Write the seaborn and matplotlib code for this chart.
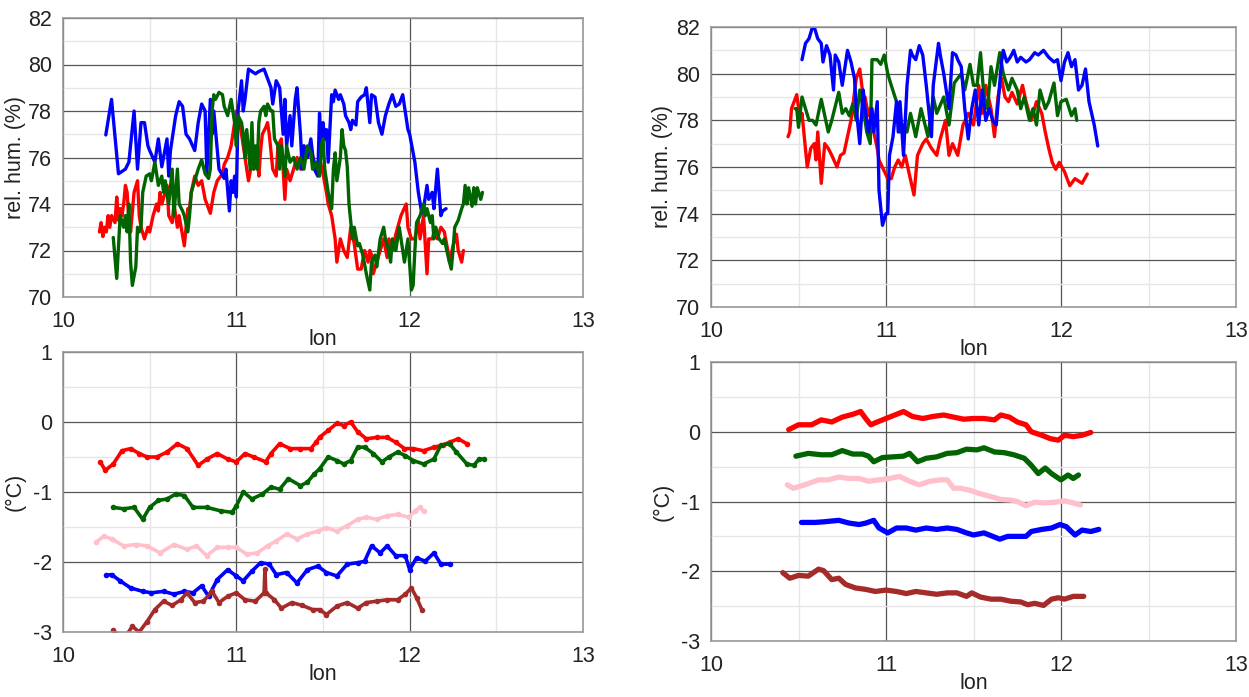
import numpy as np
import pandas as pd
import matplotlib
matplotlib.use("Agg")
import matplotlib.pyplot as plt
import seaborn as sns
from matplotlib.ticker import MultipleLocator

# ---- top-left: relative humidity (%) ----
tl_blue_lon = [10.247, 10.28, 10.32, 10.34, 10.36, 10.38, 10.41, 10.43, 10.45, 10.47, 10.49, 10.5, 10.53, 10.55, 10.57, 10.6, 10.61, 10.62, 10.65, 10.67, 10.69, 10.71, 10.73, 10.76, 10.78, 10.8, 10.82, 10.83, 10.85, 10.86, 10.87, 10.9, 10.93, 10.94, 10.96, 10.97, 10.98, 10.99, 11.0, 11.01, 11.03, 11.04, 11.05, 11.07, 11.09, 11.11, 11.13, 11.16, 11.18, 11.2, 11.21, 11.23, 11.25, 11.27, 11.28, 11.29, 11.31, 11.32, 11.34, 11.35, 11.37, 11.38, 11.39, 11.41, 11.43, 11.45, 11.47, 11.48, 11.49, 11.5, 11.51, 11.52, 11.53, 11.55, 11.56, 11.57, 11.59, 11.6, 11.62, 11.63, 11.65, 11.66, 11.67, 11.69, 11.7, 11.72, 11.74, 11.75, 11.77, 11.78, 11.8, 11.82, 11.84, 11.86, 11.88, 11.9, 11.92, 11.94, 11.96, 11.99, 12.0, 12.03, 12.05, 12.07, 12.08, 12.1, 12.11, 12.13, 12.14, 12.16, 12.18, 12.19, 12.21]
tl_blue = [76.97, 78.5, 75.3, 75.4, 75.5, 75.8, 78.0, 75.5, 77.5, 77.5, 76.5, 76.3, 75.8, 76.8, 75.6, 76.8, 75.2, 76.3, 77.8, 78.4, 78.2, 77.0, 76.8, 76.3, 77.5, 78.3, 78.0, 75.3, 78.5, 77.0, 78.0, 75.5, 75.1, 75.5, 73.7, 75.0, 74.5, 75.2, 74.3, 78.0, 79.3, 78.0, 78.5, 79.8, 79.7, 79.6, 79.7, 79.8, 79.4, 79.0, 78.3, 79.3, 79.0, 77.0, 78.5, 76.5, 77.8, 76.5, 78.5, 79.0, 77.0, 75.5, 76.5, 76.0, 76.8, 75.5, 75.2, 77.9, 76.5, 77.5, 76.8, 77.2, 75.8, 78.7, 78.4, 78.9, 78.5, 78.7, 78.3, 77.8, 77.5, 77.2, 77.6, 77.4, 78.4, 78.6, 78.7, 79.0, 77.5, 78.7, 78.6, 77.5, 77.0, 77.8, 78.3, 78.7, 78.2, 78.3, 78.7, 77.2, 77.0, 75.8, 74.5, 73.6, 73.8, 74.8, 74.2, 74.5, 73.8, 75.5, 73.5, 73.7, 73.8]

tl_green_lon = [10.29, 10.31, 10.33, 10.35, 10.36, 10.37, 10.38, 10.39, 10.4, 10.42, 10.43, 10.44, 10.45, 10.46, 10.48, 10.5, 10.51, 10.53, 10.55, 10.57, 10.58, 10.59, 10.61, 10.63, 10.64, 10.66, 10.67, 10.69, 10.7, 10.72, 10.73, 10.74, 10.76, 10.78, 10.8, 10.82, 10.84, 10.85, 10.86, 10.87, 10.88, 10.9, 10.92, 10.93, 10.95, 10.97, 10.99, 11.0, 11.01, 11.03, 11.04, 11.05, 11.06, 11.08, 11.09, 11.1, 11.11, 11.12, 11.13, 11.14, 11.16, 11.17, 11.18, 11.2, 11.21, 11.22, 11.24, 11.25, 11.26, 11.28, 11.29, 11.31, 11.33, 11.35, 11.37, 11.39, 11.41, 11.43, 11.44, 11.46, 11.48, 11.49, 11.5, 11.51, 11.53, 11.55, 11.56, 11.57, 11.58, 11.6, 11.61, 11.62, 11.63, 11.64, 11.65, 11.67, 11.68, 11.7, 11.71, 11.73, 11.75, 11.77, 11.78, 11.8, 11.81, 11.83, 11.85, 11.86, 11.88, 11.89, 11.9, 11.92, 11.94, 11.95, 11.97, 11.99, 12.01, 12.02, 12.03, 12.04, 12.06, 12.08, 12.09, 12.1, 12.12, 12.13, 12.14, 12.15, 12.17, 12.19, 12.2, 12.22, 12.24, 12.25, 12.26, 12.28, 12.3, 12.31, 12.32, 12.33, 12.34, 12.36, 12.37, 12.38, 12.39, 12.41, 12.42]
tl_green = [72.56, 70.8, 73.5, 73.0, 73.5, 72.8, 74.0, 71.5, 70.5, 71.3, 73.0, 72.8, 73.0, 74.5, 75.2, 75.3, 75.0, 75.8, 74.8, 75.2, 74.5, 75.0, 74.0, 75.5, 73.5, 75.5, 74.0, 73.7, 73.5, 72.8, 73.5, 74.5, 75.0, 75.5, 75.9, 75.3, 75.1, 75.5, 78.0, 78.7, 78.5, 78.8, 78.7, 78.2, 77.8, 78.5, 77.5, 76.5, 77.8, 77.5, 77.0, 76.0, 77.2, 75.5, 77.5, 75.5, 76.5, 75.5, 77.5, 78.0, 78.2, 77.8, 78.3, 78.0, 78.0, 76.8, 76.5, 75.5, 76.5, 75.2, 76.5, 75.8, 76.0, 75.5, 76.0, 75.5, 76.5, 76.2, 75.5, 75.8, 75.2, 76.5, 76.8, 75.5, 74.5, 73.8, 75.5, 76.2, 75.0, 76.0, 77.2, 76.5, 76.3, 75.6, 74.0, 72.5, 73.0, 72.2, 72.3, 71.8, 71.0, 70.3, 71.5, 71.8, 71.3, 72.5, 73.0, 72.5, 72.0, 71.5, 72.5, 72.0, 73.0, 72.5, 71.5, 72.5, 70.3, 70.5, 72.0, 73.2, 73.5, 74.0, 73.5, 73.8, 73.2, 73.5, 72.5, 73.0, 72.5, 72.3, 72.5, 71.8, 71.2, 72.0, 73.0, 73.3, 73.8, 74.0, 74.8, 74.0, 74.7, 73.9, 74.7, 74.0, 74.7, 74.2, 74.5]

tl_red_lon = [10.21, 10.22, 10.23, 10.24, 10.25, 10.26, 10.27, 10.28, 10.3, 10.31, 10.32, 10.33, 10.34, 10.35, 10.36, 10.37, 10.38, 10.39, 10.41, 10.43, 10.44, 10.45, 10.47, 10.49, 10.5, 10.52, 10.54, 10.55, 10.56, 10.57, 10.59, 10.6, 10.61, 10.63, 10.64, 10.66, 10.67, 10.7, 10.72, 10.73, 10.74, 10.76, 10.78, 10.8, 10.82, 10.85, 10.87, 10.89, 10.92, 10.93, 10.95, 10.97, 10.99, 11.0, 11.02, 11.04, 11.07, 11.09, 11.1, 11.12, 11.13, 11.14, 11.15, 11.17, 11.18, 11.19, 11.21, 11.23, 11.24, 11.26, 11.27, 11.28, 11.29, 11.31, 11.33, 11.35, 11.37, 11.39, 11.41, 11.43, 11.45, 11.47, 11.48, 11.5, 11.52, 11.53, 11.55, 11.57, 11.58, 11.6, 11.62, 11.64, 11.66, 11.68, 11.7, 11.72, 11.74, 11.76, 11.77, 11.78, 11.79, 11.81, 11.83, 11.85, 11.87, 11.88, 11.9, 11.92, 11.95, 11.98, 11.99, 12.01, 12.03, 12.05, 12.06, 12.08, 12.1, 12.11, 12.13, 12.15, 12.16, 12.18, 12.2, 12.22, 12.23, 12.25, 12.27, 12.28, 12.3, 12.31]
tl_red = [72.8, 73.2, 72.6, 73.0, 72.8, 73.5, 73.0, 73.5, 73.2, 74.3, 73.3, 73.8, 73.5, 74.0, 74.8, 74.5, 73.3, 72.8, 74.5, 75.0, 73.5, 73.0, 72.5, 73.0, 72.8, 73.5, 74.0, 73.7, 74.5, 74.0, 74.5, 74.8, 73.5, 73.2, 74.0, 73.0, 73.5, 72.2, 73.8, 73.8, 74.5, 75.2, 74.8, 75.0, 74.2, 73.6, 74.5, 75.0, 75.3, 75.7, 76.0, 76.5, 77.5, 78.0, 77.5, 76.5, 75.0, 75.8, 75.5, 76.0, 75.2, 76.3, 77.0, 77.3, 77.5, 77.0, 75.5, 75.2, 76.5, 76.8, 75.5, 74.2, 75.5, 75.0, 75.5, 76.0, 75.5, 76.5, 76.0, 76.3, 75.8, 75.5, 76.0, 75.3, 74.5, 74.0, 73.5, 72.5, 71.5, 72.5, 72.0, 71.7, 73.0, 72.3, 71.2, 71.2, 72.0, 71.5, 72.0, 71.8, 71.0, 71.5, 72.0, 72.5, 71.7, 72.5, 72.0, 72.7, 73.5, 74.0, 73.0, 72.5, 72.5, 73.3, 72.5, 73.5, 71.0, 72.5, 72.5, 73.0, 72.5, 73.0, 72.8, 72.0, 71.5, 72.2, 72.7, 72.0, 71.5, 72.0]

# ---- top-right: relative humidity (%) ----
tr_blue_lon = [10.52, 10.54, 10.56, 10.58, 10.59, 10.61, 10.63, 10.64, 10.66, 10.68, 10.7, 10.71, 10.73, 10.75, 10.76, 10.78, 10.8, 10.82, 10.83, 10.85, 10.87, 10.88, 10.9, 10.92, 10.93, 10.95, 10.96, 10.98, 11.0, 11.01, 11.02, 11.04, 11.06, 11.07, 11.08, 11.1, 11.12, 11.14, 11.15, 11.17, 11.19, 11.21, 11.23, 11.26, 11.27, 11.3, 11.31, 11.33, 11.34, 11.36, 11.38, 11.4, 11.41, 11.43, 11.45, 11.47, 11.49, 11.51, 11.53, 11.55, 11.57, 11.59, 11.61, 11.63, 11.66, 11.67, 11.69, 11.71, 11.73, 11.75, 11.77, 11.8, 11.82, 11.85, 11.87, 11.9, 11.93, 11.96, 11.98, 12.0, 12.02, 12.04, 12.06, 12.08, 12.1, 12.12, 12.14, 12.16, 12.19, 12.21]
tr_blue = [80.6, 81.3, 81.5, 82.0, 82.0, 81.5, 81.3, 80.5, 81.2, 80.8, 79.3, 80.8, 80.5, 79.5, 80.0, 81.0, 80.5, 79.8, 78.5, 77.0, 79.3, 78.5, 77.5, 78.5, 77.5, 78.8, 75.0, 73.5, 74.0, 74.0, 76.5, 77.3, 78.8, 77.5, 78.8, 76.5, 79.5, 81.0, 80.8, 80.6, 81.2, 80.8, 79.5, 77.3, 79.5, 81.3, 80.8, 80.0, 79.5, 78.5, 80.9, 80.8, 80.6, 80.3, 78.5, 77.2, 78.5, 79.3, 77.8, 79.3, 78.0, 78.5, 78.0, 77.8, 80.5, 81.0, 80.5, 80.7, 81.0, 80.5, 80.7, 80.5, 80.6, 80.9, 80.8, 81.0, 80.7, 80.5, 80.6, 79.7, 80.5, 80.9, 80.3, 80.6, 79.3, 79.5, 80.2, 78.8, 77.8, 76.9]

tr_green_lon = [10.48, 10.49, 10.5, 10.52, 10.54, 10.56, 10.58, 10.6, 10.63, 10.65, 10.67, 10.69, 10.73, 10.75, 10.77, 10.79, 10.81, 10.83, 10.85, 10.87, 10.89, 10.91, 10.92, 10.95, 10.97, 10.99, 11.01, 11.03, 11.06, 11.08, 11.1, 11.12, 11.14, 11.17, 11.2, 11.24, 11.27, 11.29, 11.33, 11.36, 11.39, 11.41, 11.43, 11.45, 11.48, 11.5, 11.52, 11.54, 11.56, 11.58, 11.6, 11.62, 11.65, 11.67, 11.7, 11.72, 11.75, 11.77, 11.79, 11.82, 11.84, 11.86, 11.88, 11.91, 11.93, 11.96, 11.98, 12.0, 12.03, 12.06, 12.08, 12.09]
tr_green = [78.5, 78.5, 77.7, 79.0, 78.5, 78.0, 78.0, 77.8, 78.9, 78.2, 77.5, 78.0, 79.2, 78.3, 78.5, 78.2, 78.7, 78.0, 79.3, 78.5, 77.5, 77.0, 80.6, 80.6, 80.4, 80.8, 80.0, 79.5, 78.8, 77.5, 77.8, 77.5, 78.3, 77.3, 78.5, 77.3, 79.0, 78.3, 79.0, 77.8, 79.6, 79.8, 80.0, 79.3, 80.4, 79.5, 79.5, 80.9, 79.0, 78.5, 80.3, 79.5, 80.9, 80.0, 79.3, 79.8, 79.3, 78.5, 79.0, 78.0, 78.5, 77.8, 79.3, 78.5, 78.8, 79.6, 78.2, 78.8, 78.9, 78.2, 78.5, 78.0]

tr_red_lon = [10.44, 10.45, 10.46, 10.49, 10.51, 10.52, 10.55, 10.57, 10.59, 10.6, 10.61, 10.63, 10.65, 10.67, 10.69, 10.72, 10.74, 10.76, 10.8, 10.83, 10.85, 10.87, 10.88, 10.9, 10.91, 10.93, 10.95, 10.96, 11.01, 11.03, 11.05, 11.07, 11.09, 11.11, 11.13, 11.16, 11.18, 11.21, 11.23, 11.26, 11.29, 11.31, 11.34, 11.36, 11.38, 11.41, 11.44, 11.47, 11.5, 11.53, 11.55, 11.57, 11.6, 11.62, 11.64, 11.66, 11.68, 11.7, 11.72, 11.75, 11.78, 11.8, 11.83, 11.86, 11.89, 11.91, 11.93, 11.95, 11.97, 11.99, 12.02, 12.05, 12.08, 12.12, 12.15]
tr_red = [77.3, 77.5, 78.5, 79.1, 78.0, 78.3, 76.0, 76.8, 77.0, 76.3, 77.5, 75.3, 77.0, 76.8, 76.5, 76.0, 76.5, 76.6, 78.0, 79.8, 80.2, 79.0, 79.0, 78.2, 78.5, 77.5, 76.8, 76.3, 75.5, 75.5, 76.0, 76.3, 76.0, 76.5, 75.8, 74.8, 76.5, 77.0, 77.2, 76.8, 76.5, 77.2, 78.0, 76.5, 77.0, 76.5, 77.8, 78.3, 77.8, 79.5, 78.3, 79.5, 78.5, 77.3, 79.0, 79.8, 79.0, 78.8, 79.2, 78.7, 79.5, 78.8, 78.0, 78.8, 78.3, 77.5, 76.8, 76.2, 75.9, 76.2, 75.8, 75.2, 75.5, 75.3, 75.7]

# ---- bottom-left: temperature (°C) ----
bl_red_lon = [10.215, 10.244, 10.29, 10.34, 10.39, 10.44, 10.485, 10.54, 10.6, 10.66, 10.715, 10.78, 10.83, 10.89, 10.95, 11.0, 11.05, 11.1, 11.17, 11.2, 11.25, 11.31, 11.37, 11.43, 11.46, 11.48, 11.53, 11.58, 11.62, 11.66, 11.7, 11.75, 11.81, 11.87, 11.92, 11.97, 12.02, 12.08, 12.14, 12.19, 12.23, 12.28, 12.33]
bl_red = [-0.57, -0.69, -0.6, -0.41, -0.38, -0.45, -0.5, -0.5, -0.43, -0.31, -0.38, -0.62, -0.53, -0.45, -0.53, -0.57, -0.45, -0.5, -0.57, -0.45, -0.31, -0.38, -0.38, -0.38, -0.29, -0.22, -0.12, -0.02, -0.05, 0.0, -0.14, -0.24, -0.22, -0.22, -0.29, -0.38, -0.38, -0.41, -0.36, -0.33, -0.29, -0.24, -0.31]

bl_green_lon = [10.29, 10.35, 10.41, 10.46, 10.5, 10.55, 10.6, 10.65, 10.7, 10.75, 10.83, 10.91, 10.975, 11.0, 11.04, 11.09, 11.15, 11.2, 11.25, 11.3, 11.37, 11.41, 11.45, 11.48, 11.53, 11.58, 11.62, 11.66, 11.7, 11.74, 11.79, 11.84, 11.88, 11.93, 11.975, 12.02, 12.08, 12.14, 12.18, 12.23, 12.27, 12.33, 12.37, 12.4, 12.43]
bl_green = [-1.22, -1.24, -1.22, -1.39, -1.22, -1.12, -1.1, -1.03, -1.05, -1.22, -1.22, -1.27, -1.29, -1.2, -1.0, -1.1, -1.03, -0.93, -0.96, -0.81, -0.91, -0.86, -0.74, -0.67, -0.5, -0.55, -0.6, -0.55, -0.36, -0.36, -0.45, -0.57, -0.5, -0.43, -0.48, -0.55, -0.6, -0.53, -0.33, -0.31, -0.43, -0.6, -0.62, -0.53, -0.53]

bl_pink_lon = [10.19, 10.235, 10.28, 10.35, 10.42, 10.485, 10.56, 10.64, 10.715, 10.77, 10.83, 10.89, 10.95, 11.0, 11.06, 11.12, 11.18, 11.23, 11.29, 11.35, 11.41, 11.47, 11.52, 11.58, 11.64, 11.7, 11.75, 11.81, 11.87, 11.93, 11.995, 12.03, 12.06, 12.08]
bl_pink = [-1.72, -1.63, -1.67, -1.77, -1.75, -1.77, -1.87, -1.75, -1.82, -1.77, -1.91, -1.79, -1.79, -1.79, -1.89, -1.87, -1.77, -1.7, -1.6, -1.67, -1.6, -1.56, -1.51, -1.56, -1.48, -1.39, -1.36, -1.39, -1.34, -1.32, -1.36, -1.27, -1.22, -1.27]

bl_blue_lon = [10.25, 10.28, 10.33, 10.39, 10.46, 10.51, 10.58, 10.64, 10.7, 10.75, 10.8, 10.84, 10.89, 10.95, 11.0, 11.04, 11.09, 11.14, 11.19, 11.23, 11.29, 11.35, 11.41, 11.47, 11.52, 11.58, 11.64, 11.7, 11.74, 11.78, 11.83, 11.87, 11.92, 11.975, 12.0, 12.04, 12.09, 12.14, 12.18, 12.23]
bl_blue = [-2.19, -2.18, -2.27, -2.37, -2.42, -2.44, -2.42, -2.46, -2.42, -2.44, -2.34, -2.49, -2.25, -2.11, -2.2, -2.27, -2.13, -2.01, -2.03, -2.18, -2.15, -2.3, -2.11, -2.06, -2.15, -2.2, -2.03, -2.01, -1.99, -1.77, -1.87, -1.77, -1.91, -1.91, -2.11, -1.94, -1.99, -1.87, -2.03, -2.03]

bl_brown_lon = [10.29, 10.3, 10.35, 10.4, 10.44, 10.485, 10.53, 10.58, 10.63, 10.68, 10.715, 10.76, 10.81, 10.86, 10.9, 10.95, 11.0, 11.05, 11.11, 11.16, 11.165, 11.17, 11.22, 11.26, 11.32, 11.38, 11.44, 11.48, 11.52, 11.58, 11.64, 11.7, 11.75, 11.81, 11.87, 11.93, 11.975, 12.01, 12.04, 12.07]
bl_brown = [-2.97, -3.01, -3.1, -2.92, -3.0, -2.85, -2.68, -2.56, -2.62, -2.54, -2.44, -2.58, -2.56, -2.42, -2.58, -2.49, -2.44, -2.54, -2.56, -2.44, -2.1, -2.44, -2.54, -2.66, -2.58, -2.62, -2.68, -2.68, -2.75, -2.63, -2.58, -2.66, -2.58, -2.56, -2.54, -2.54, -2.46, -2.37, -2.51, -2.68]

# ---- bottom-right: temperature (°C) ----
br_red_lon = [10.444, 10.5, 10.575, 10.63, 10.69, 10.75, 10.81, 10.855, 10.884, 10.913, 10.95, 11.0, 11.05, 11.1, 11.15, 11.21, 11.27, 11.33, 11.386, 11.444, 11.5, 11.56, 11.62, 11.656, 11.705, 11.75, 11.8, 11.83, 11.89, 11.94, 11.985, 12.02, 12.07, 12.12, 12.17]
br_red = [0.03, 0.1, 0.1, 0.17, 0.14, 0.21, 0.25, 0.29, 0.19, 0.1, 0.14, 0.19, 0.24, 0.29, 0.22, 0.19, 0.22, 0.24, 0.21, 0.18, 0.19, 0.19, 0.17, 0.24, 0.21, 0.14, 0.1, 0.0, -0.05, -0.1, -0.12, -0.05, -0.07, -0.05, -0.01]

br_green_lon = [10.485, 10.556, 10.63, 10.69, 10.75, 10.81, 10.865, 10.9, 10.93, 10.98, 11.04, 11.1, 11.135, 11.18, 11.23, 11.29, 11.35, 11.405, 11.46, 11.52, 11.56, 11.62, 11.676, 11.73, 11.79, 11.83, 11.87, 11.91, 11.946, 12.0, 12.04, 12.07, 12.1]
br_green = [-0.35, -0.31, -0.33, -0.33, -0.27, -0.32, -0.32, -0.35, -0.43, -0.37, -0.36, -0.35, -0.31, -0.43, -0.38, -0.36, -0.31, -0.3, -0.25, -0.26, -0.23, -0.29, -0.3, -0.33, -0.38, -0.48, -0.6, -0.52, -0.6, -0.69, -0.62, -0.67, -0.62]

br_pink_lon = [10.436, 10.47, 10.537, 10.614, 10.67, 10.73, 10.79, 10.846, 10.9, 10.96, 11.02, 11.077, 11.135, 11.19, 11.25, 11.31, 11.35, 11.386, 11.425, 11.48, 11.54, 11.6, 11.656, 11.714, 11.75, 11.8, 11.85, 11.907, 11.965, 12.02, 12.07, 12.11]
br_pink = [-0.76, -0.81, -0.76, -0.69, -0.69, -0.65, -0.67, -0.67, -0.71, -0.69, -0.67, -0.64, -0.71, -0.76, -0.71, -0.69, -0.69, -0.81, -0.81, -0.84, -0.89, -0.93, -0.97, -0.98, -1.0, -1.06, -1.01, -1.02, -1.01, -0.99, -1.02, -1.05]

br_blue_lon = [10.517, 10.595, 10.65, 10.73, 10.79, 10.846, 10.884, 10.93, 10.96, 11.01, 11.06, 11.116, 11.17, 11.23, 11.29, 11.35, 11.405, 11.46, 11.5, 11.56, 11.61, 11.65, 11.695, 11.75, 11.8, 11.83, 11.89, 11.946, 11.994, 12.03, 12.08, 12.12, 12.17, 12.216]
br_blue = [-1.3, -1.3, -1.29, -1.27, -1.31, -1.33, -1.31, -1.27, -1.38, -1.45, -1.38, -1.38, -1.41, -1.38, -1.4, -1.38, -1.4, -1.45, -1.48, -1.45, -1.5, -1.54, -1.5, -1.5, -1.5, -1.43, -1.4, -1.38, -1.33, -1.36, -1.48, -1.41, -1.43, -1.4]

br_brown_lon = [10.41, 10.45, 10.5, 10.556, 10.614, 10.643, 10.69, 10.73, 10.77, 10.826, 10.884, 10.94, 11.0, 11.06, 11.116, 11.17, 11.23, 11.29, 11.35, 11.405, 11.46, 11.49, 11.54, 11.6, 11.656, 11.714, 11.77, 11.81, 11.85, 11.9, 11.946, 11.985, 12.02, 12.07, 12.13]
br_brown = [-2.02, -2.1, -2.06, -2.07, -1.97, -1.99, -2.12, -2.1, -2.19, -2.24, -2.26, -2.29, -2.27, -2.29, -2.32, -2.29, -2.31, -2.33, -2.31, -2.31, -2.36, -2.31, -2.37, -2.4, -2.4, -2.43, -2.44, -2.48, -2.46, -2.49, -2.4, -2.38, -2.4, -2.36, -2.36]

RED, BLUE, GREEN, PINK, BROWN = "#ff0000", "#0000ff", "#006400", "#ffc0cb", "#a52a2a"

sns.set_style("white")
plt.rcParams["font.family"] = ["Liberation Sans", "DejaVu Sans"]

fig = plt.figure(figsize=(12.49, 6.97), dpi=100)
W, H = 1249, 697


def make_ax(x0, x1, y0, y1):
    return fig.add_axes([x0 / W, 1 - y1 / H, (x1 - x0) / W, (y1 - y0) / H])


def style(ax, ylim, ymajor, ylabel):
    ax.set_xlim(10, 13)
    ax.set_ylim(*ylim)
    ax.xaxis.set_major_locator(MultipleLocator(1))
    ax.xaxis.set_minor_locator(MultipleLocator(0.5))
    ax.yaxis.set_minor_locator(MultipleLocator(ymajor / 2))
    ax.grid(which="major", color="#555555", lw=0.9)
    ax.grid(which="minor", color="#e6e6e6", lw=1.0)
    ax.set_axisbelow(True)
    for s in ax.spines.values():
        s.set_color("#999999")
        s.set_linewidth(1.2)
    ax.tick_params(which="both", length=0, labelsize=15.5, colors="#222222")
    ax.tick_params(axis="x", pad=10)
    ax.tick_params(axis="y", pad=8)
    ax.set_xlabel("lon", fontsize=15.5, color="#222222")
    ax.set_ylabel(ylabel, fontsize=15.5, color="#222222")
    ax.yaxis.set_label_coords(-0.072, 0.5)
    ax.xaxis.set_label_coords(0.5, -0.115)
    ticks = np.arange(ylim[0], ylim[1] + 0.01, ymajor)
    ax.set_yticks(ticks)
    ax.set_yticklabels([f"{v:g}" for v in ticks])


def line(ax, x, y, c, lw=2.4, **kw):
    sns.lineplot(x=x, y=y, color=c, lw=lw, ax=ax, sort=False, estimator=None, **kw)


ax1 = make_ax(63, 583, 18, 297)
for x, y, c in [(tl_red_lon, tl_red, RED), (tl_blue_lon, tl_blue, BLUE), (tl_green_lon, tl_green, GREEN)]:
    line(ax1, x, y, c)
style(ax1, (70, 82), 2, "rel. hum. (%)")

ax2 = make_ax(711, 1236, 27, 307)
for x, y, c in [(tr_red_lon, tr_red, RED), (tr_green_lon, tr_green, GREEN), (tr_blue_lon, tr_blue, BLUE)]:
    line(ax2, x, y, c)
style(ax2, (70, 82), 2, "rel. hum. (%)")

ax3 = make_ax(63, 583, 352, 632)
for x, y, c in [(bl_red_lon, bl_red, RED), (bl_green_lon, bl_green, GREEN), (bl_pink_lon, bl_pink, PINK),
                (bl_blue_lon, bl_blue, BLUE), (bl_brown_lon, bl_brown, BROWN)]:
    line(ax3, x, y, c, lw=2.6, marker="o", markersize=4, markeredgewidth=0)
style(ax3, (-3, 1), 1, "(°C)")

ax4 = make_ax(711, 1236, 362, 641)
for x, y, c in [(br_red_lon, br_red, RED), (br_green_lon, br_green, GREEN), (br_pink_lon, br_pink, PINK),
                (br_blue_lon, br_blue, BLUE), (br_brown_lon, br_brown, BROWN)]:
    line(ax4, x, y, c, lw=3.8)
style(ax4, (-3, 1), 1, "(°C)")

fig.savefig("out.png", dpi=100)
